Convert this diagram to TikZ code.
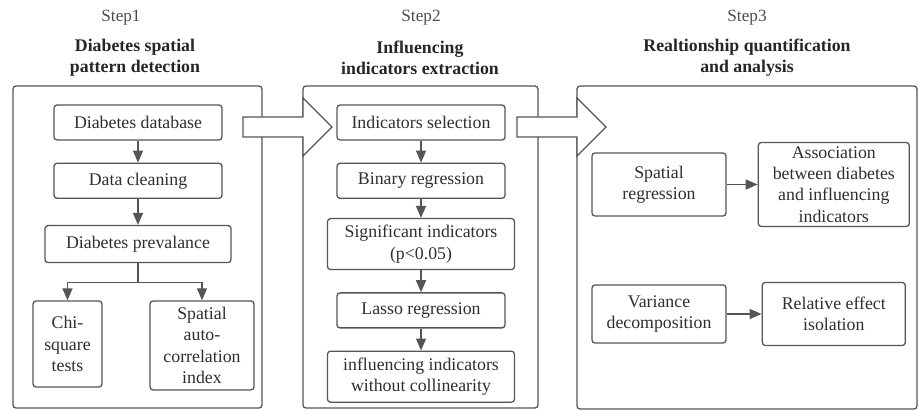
\documentclass[tikz,border=0pt]{standalone}
\usepackage{fontspec}
\setmainfont{Liberation Serif}
\usetikzlibrary{positioning}
\usetikzlibrary{arrows.meta}
\definecolor{linegray}{HTML}{555555}
\definecolor{textgray}{HTML}{2E2E2E}

\begin{document}
\begin{tikzpicture}[
  x=0.5pt, y=-0.5pt,
  font=\fontsize{8.9}{10.6}\selectfont, text=textgray,
  panel/.style={draw=linegray, line width=0.65pt, rounded corners=1.5pt},
  stepbox/.style={draw=linegray, line width=0.65pt, rounded corners=1.5pt, align=center, inner sep=1pt},
  steplabel/.style={font=\fontsize{8.6}{10.6}\selectfont, text=black!70},
  title/.style={font=\fontsize{8.9}{10.6}\selectfont\bfseries, align=center, text=black!85},
  arrow/.style={-{Triangle[length=6pt, width=5pt]}, draw=linegray, line width=0.65pt},
  link/.style={draw=linegray, line width=0.65pt},
  bigarrow/.style={draw=linegray, line width=0.65pt, fill=white}
]
\useasboundingbox (0,0) rectangle (919,410);

% panels
\node[panel, minimum width=124.5pt, minimum height=161pt] (panelA) at (137.5,247) {};
\node[panel, minimum width=117.5pt, minimum height=161pt] (panelB) at (420.5,247) {};
\node[panel, minimum width=170pt, minimum height=161.5pt] (panelC) at (747,247.5) {};

% block arrows between the steps
\draw[bigarrow] (243,117) -- (303,117) -- (303,98) -- (332,127) -- (303,156) -- (303,137) -- (243,137) -- cycle;
\draw[bigarrow] (517,117) -- (577,117) -- (577,98) -- (606,127) -- (577,156) -- (577,137) -- (517,137) -- cycle;

% headings
\node[steplabel] (stepA) at (121,18) {Step1};
\node[steplabel] (stepB) at (421,18) {Step2};
\node[steplabel] (stepC) at (747,18) {Step3};
\node[title] (titleA) at (135,57.5) {Diabetes spatial\\pattern detection};
\node[title] (titleB) at (420,57.5) {Influencing\\indicators extraction};
\node[title] (titleC) at (747,57.5) {Realtionship quantification\\and analysis};

% step 1
\node[stepbox, minimum width=84pt, minimum height=17.5pt] (database) at (138,122.5) {Diabetes database};
\node[stepbox, minimum width=84pt, minimum height=17.5pt, below=11pt of database] (cleaning) {Data cleaning};
\node[stepbox, minimum width=93pt, minimum height=18.5pt, below=13pt of cleaning] (prevalance) {Diabetes prevalance};
\coordinate[below=9.5pt of prevalance] (split);
\node[stepbox, minimum width=34.5pt, minimum height=43pt] (chisquare) at (67.5,344) {Chi-\\square\\tests};
\node[stepbox, minimum width=52pt, minimum height=44.5pt] (autocorr) at (202,345.5) {Spatial\\auto-\\correlation\\index};

\draw[arrow] (database) -- (cleaning);
\draw[arrow] (cleaning) -- (prevalance);
\draw[link] (prevalance) -- (split);
\draw[arrow] (split) -| (chisquare);
\draw[arrow] (split) -| (autocorr);

% step 2
\node[stepbox, minimum width=84pt, minimum height=17.5pt] (selection) at (421,122.5) {Indicators selection};
\node[stepbox, minimum width=84pt, minimum height=17.5pt, below=11pt of selection] (binary) {Binary regression};
\node[stepbox, minimum width=93.5pt, minimum height=25.5pt, below=9.5pt of binary] (significant) {Significant indicators\\(p<0.05)};
\node[stepbox, minimum width=84pt, minimum height=17.5pt, below=11pt of significant] (lasso) {Lasso regression};
\node[stepbox, minimum width=93.5pt, minimum height=25.5pt, below=11pt of lasso] (final) {influencing indicators\\without collinearity};

\draw[arrow] (selection) -- (binary);
\draw[arrow] (binary) -- (significant);
\draw[arrow] (significant) -- (lasso);
\draw[arrow] (lasso) -- (final);

% step 3
\node[stepbox, minimum width=67pt, minimum height=31.5pt] (spatialreg) at (659,184.5) {Spatial\\regression};
\node[stepbox, minimum width=75.5pt, minimum height=42pt, right=15.5pt of spatialreg] (association) {Association\\between diabetes\\and influencing\\indicators};
\node[stepbox, minimum width=67pt, minimum height=29pt] (variance) at (659,314) {Variance\\decomposition};
\node[stepbox, minimum width=71.5pt, minimum height=31.5pt, right=17.5pt of variance] (isolation) {Relative effect\\isolation};

\draw[arrow] (spatialreg) -- (association);
\draw[arrow] (variance) -- (isolation);

\end{tikzpicture}
\end{document}
